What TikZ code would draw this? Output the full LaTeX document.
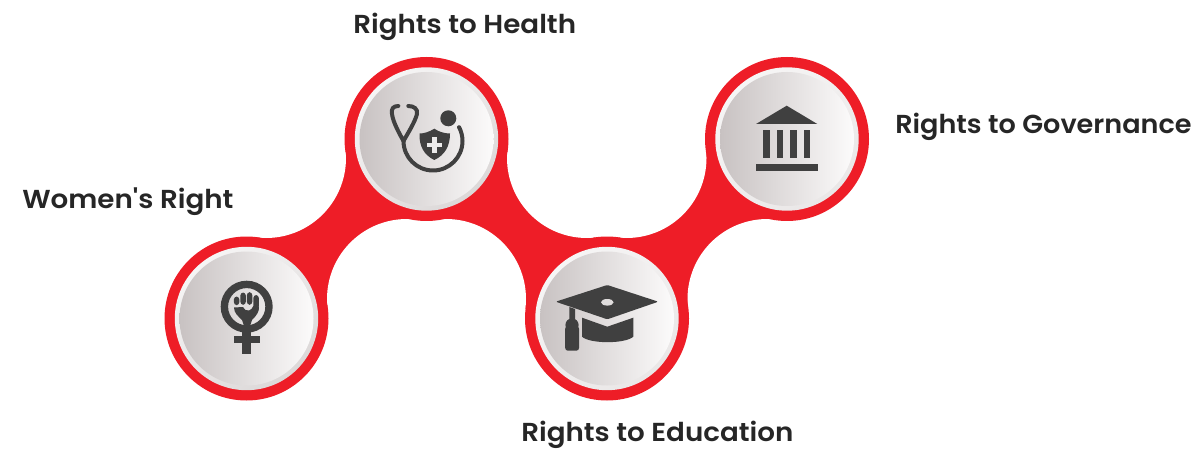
\documentclass[tikz,border=0pt]{standalone}
\usepackage{fontspec}
\usepackage{graphicx}
\setmainfont{Poppins}
\newfontfamily\labfont{Poppins SemiBold}
\definecolor{redc}{HTML}{EE1D27}
\definecolor{icon}{HTML}{404040}
\definecolor{txt}{HTML}{262626}
\definecolor{discL}{HTML}{C8C2C2}
\definecolor{discM}{HTML}{E0DDDD}
\definecolor{discR}{HTML}{FCFBFB}
\definecolor{ringT}{HTML}{F6F5F5}
\definecolor{ringB}{HTML}{DCD8D8}
\definecolor{ringBL}{HTML}{EAE7E7}
\tikzset{
  lab/.style={anchor=base west,inner sep=0pt,text=txt,font=\labfont\fontsize{19.5pt}{22pt}\selectfont},
  icofill/.style={fill=icon,draw=none},
  tube/.style={draw=icon,line width=3pt,line cap=round,line join=round},
}
\newcommand{\wheel}[2]{%
  \shade[top color=ringT,bottom color=#2,shading angle=40] (#1) circle (71.7);
  \shade[left color=discL,middle color=discM,right color=discR] (#1) circle (67);
}
\begin{document}
\begin{tikzpicture}[x=0.75pt,y=-0.75pt]
\useasboundingbox[fill=white] (0,0) rectangle (1196,449);
\coordinate (c1) at (246.5,318.5);
\coordinate (c2) at (426.5,139);
\coordinate (c3) at (607,318.5);
\coordinate (c4) at (787,139);
\coordinate (u1) at (266,158);
\coordinate (d1) at (407,299);
\coordinate (u2) at (587,158);
\coordinate (d2) at (446,299);
\coordinate (u3) at (626.5,158);
\coordinate (d3) at (767.5,299);
% red bridges
\fill[redc] (c1) -- (u1) -- (c2) -- (d1) -- cycle;
\fill[redc] (c2) -- (u2) -- (c3) -- (d2) -- cycle;
\fill[redc] (c3) -- (u3) -- (c4) -- (d3) -- cycle;
\foreach \w in {u1,d1,u2,d2,u3,d3} \fill[white] (\w) circle (80);
\foreach \c in {c1,c2,c3,c4} \fill[redc] (\c) circle (82);
\wheel{c1}{ringB}
\wheel{c2}{ringB}
\wheel{c3}{ringBL}
\wheel{c4}{ringBL}
% Venus + fist
\fill[icofill,even odd rule] (246.7,306.7) circle (26) circle (18.6);
\fill[icofill] (242.4,330) rectangle (251,354);
\fill[icofill] (234,336) rectangle (260,343.3);
\fill[icofill,rounded corners=2.4pt] (233.8,296.5) rectangle (239.4,305.2);
\fill[icofill,rounded corners=2.4pt] (240.3,292.5) rectangle (245.9,304.8);
\fill[icofill,rounded corners=2.4pt] (246.8,292.2) rectangle (252.4,304.8);
\fill[icofill,rounded corners=2.4pt] (253.3,295) rectangle (258.9,309);
\fill[icofill] (234,307.5) -- (243,307) .. controls (244,309.5) and (246,311) .. (249,310.5)
  .. controls (251,310) and (252.5,308) .. (253.3,306) -- (259,306.5)
  .. controls (259.5,312) and (256,316) .. (252,320) -- (250,326) -- (244,326) -- (242,320)
  .. controls (238,316) and (234,313) .. (234,307.5) -- cycle;
% Stethoscope
\draw[tube] (398.3,106) .. controls (393,106) and (391,109) .. (392,114)
  .. controls (393,122) and (399,133) .. (403.5,141)
  .. controls (408,133) and (415,122) .. (417,114)
  .. controls (418,109) and (414,106) .. (408.3,106);
\draw[tube] (403.5,141) arc[start angle=180,end angle=-28,radius=29.5];
\fill[icofill] (448.3,118.3) circle (8);
\fill[icofill] (434.3,128.7) .. controls (429,132) and (424,133.5) .. (419.5,133.5)
  .. controls (419,146) and (424,155) .. (434.3,160)
  .. controls (445,155) and (450,146) .. (450,133.5)
  .. controls (445,133.5) and (439,132) .. (434.3,128.7) -- cycle;
\fill[discM!60!white] (432,137.3) rectangle (436.6,152.7);
\fill[discM!60!white] (426.6,142.7) rectangle (442,147.3);
% Graduation cap
\fill[icofill,rounded corners=1pt] (607.3,285) -- (555.7,301.7) -- (607.3,319.3) -- (658.3,301.7) -- cycle;
\fill[discM] (607.3,302.3) ellipse (6.3 and 3.3);
\fill[icofill] (582,317.7) -- (607.3,326.7) -- (633.3,317.7) -- (633.3,336.7)
  .. controls (625,344) and (590,344) .. (582,336.7) -- cycle;
\fill[icofill] (569.3,307) -- (575,309) -- (575,322) -- (569.3,322) -- cycle;
\fill[icofill] (572,325) circle (6.6);
\fill[icofill,rounded corners=2pt] (565.2,326) rectangle (579,350.7);
% Temple
\fill[icofill] (786.7,105.7) -- (756,124) -- (817.3,124) -- cycle;
\foreach \xa in {763.3,776.7,790.3,804} \fill[icofill] (\xa,130.3) rectangle +(6.3,28);
\fill[icofill] (756,164.3) rectangle (817.7,171);
% Labels
\node[lab] (health) at (353,34) {\scalebox{1.067}[1]{Rights to Health}};
\node[lab] (women) at (22,209) {\scalebox{1.067}[1]{Women's Right}};
\node[lab] (edu) at (521,441) {\scalebox{1.067}[1]{Rights to Education}};
\node[lab] (gov) at (895,134) {\scalebox{1.042}[1]{Rights to Governance}};
\end{tikzpicture}
\end{document}
